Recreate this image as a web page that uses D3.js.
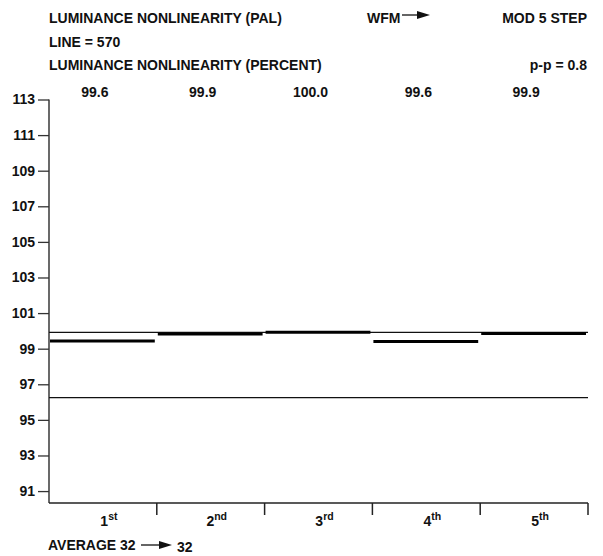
<!DOCTYPE html>
<html>
<head>
<meta charset="utf-8">
<script src="https://cdn.jsdelivr.net/npm/d3@7"></script>
<style>
  body { margin: 0; background: #fff; }
  text { font-family: "Liberation Sans", Arial, sans-serif; font-weight: bold; fill: #111; }
</style>
</head>
<body>
<svg width="603" height="556"></svg>
<script>
// data
const steps = ["1st", "2nd", "3rd", "4th", "5th"];
const stepNums = ["1", "2", "3", "4", "5"];
const stepSups = ["st", "nd", "rd", "th", "th"];
const stepLabels = ["99.6", "99.9", "100.0", "99.6", "99.9"];
const stepLevels = [99.43, 99.83, 99.93, 99.40, 99.86];
const refLevels = [99.92, 96.25];
const yTicks = [113, 111, 109, 107, 105, 103, 101, 99, 97, 95, 93, 91];

const svg = d3.select('svg');

const margin = { top: 99.5, right: 15, bottom: 53, left: 49 };
const width = +svg.attr('width');
const height = +svg.attr('height');

const xScale = d3.scaleBand()
  .domain(steps)
  .range([margin.left, width - margin.right])
  .padding(0);

const yScale = d3.scaleLinear()
  .domain([90.33, 113])
  .range([height - margin.bottom, margin.top]);

// header lines
const header = svg.append('g').attr('font-size', 14);
header.append('text').attr('x', 49).attr('y', 22.7).text('LUMINANCE NONLINEARITY (PAL)');
header.append('text').attr('x', 367).attr('y', 22.7).text('WFM');
header.append('text').attr('x', 587).attr('y', 22.7).attr('text-anchor', 'end').text('MOD 5 STEP');
header.append('text').attr('x', 49).attr('y', 46.5).text('LINE = 570');
header.append('text').attr('x', 49).attr('y', 70).text('LUMINANCE NONLINEARITY (PERCENT)');
header.append('text').attr('x', 587).attr('y', 70).attr('text-anchor', 'end').text('p-p = 0.8');

const arrow = (g, x1, x2, y) => {
  g.append('line')
    .attr('x1', x1).attr('x2', x2 - 10)
    .attr('y1', y).attr('y2', y)
    .attr('stroke', '#111').attr('stroke-width', 1.3);
  g.append('path')
    .attr('d', `M${x2 - 13},${y - 4}L${x2},${y}L${x2 - 13},${y + 4}Z`)
    .attr('fill', '#111');
};
arrow(svg, 402, 430, 15);

// step values above the plot
svg.append('g')
  .selectAll('text')
  .data(stepLabels)
  .join('text')
    .attr('font-size', 14)
    .attr('text-anchor', 'middle')
    .attr('x', (d, i) => xScale(steps[i]) + xScale.bandwidth() / 2 - 8)
    .attr('y', 97)
    .text(d => d);

// y axis
const yAxis = d3.axisLeft(yScale)
  .tickValues(yTicks)
  .tickFormat(d3.format('d'))
  .tickSize(11)
  .tickSizeOuter(0)
  .tickPadding(3);

const yAxisG = svg.append('g')
  .attr('transform', `translate(${margin.left},0)`)
  .call(yAxis);
yAxisG.select('.domain')
  .attr('d', `M0,${yScale(113)}V${yScale.range()[0]}`)
  .attr('stroke', '#444').attr('stroke-width', 1.6);
yAxisG.selectAll('.tick line').attr('stroke', '#333').attr('stroke-width', 1.3);
yAxisG.selectAll('.tick text')
  .attr('font-size', 14)
  .attr('font-family', null)
  .attr('fill', '#111');

// x axis with band boundaries
const xAxisG = svg.append('g')
  .attr('transform', `translate(0,${yScale.range()[0]})`);
xAxisG.append('line')
  .attr('x1', margin.left).attr('x2', width - margin.right)
  .attr('stroke', '#222').attr('stroke-width', 1.6);
xAxisG.selectAll('.bound')
  .data(steps)
  .join('line')
    .attr('class', 'bound')
    .attr('x1', d => xScale(d) + xScale.bandwidth())
    .attr('x2', d => xScale(d) + xScale.bandwidth())
    .attr('y1', 0).attr('y2', 12)
    .attr('stroke', '#222').attr('stroke-width', 1.5);

const stepText = xAxisG.selectAll('.step')
  .data(steps)
  .join('text')
    .attr('class', 'step')
    .attr('font-size', 14)
    .attr('text-anchor', 'middle')
    .attr('x', d => xScale(d) + xScale.bandwidth() / 2 + 6)
    .attr('y', 23);
stepText.append('tspan').text((d, i) => stepNums[i]);
stepText.append('tspan')
  .attr('font-size', 10.5)
  .attr('dy', -6)
  .text((d, i) => stepSups[i]);

// reference lines
svg.append('g')
  .selectAll('line')
  .data(refLevels)
  .join('line')
    .attr('x1', margin.left)
    .attr('x2', width - margin.right)
    .attr('y1', d => yScale(d))
    .attr('y2', d => yScale(d))
    .attr('stroke', '#111')
    .attr('stroke-width', 1.3);

// step levels
svg.append('g')
  .selectAll('line')
  .data(stepLevels)
  .join('line')
    .attr('x1', (d, i) => xScale(steps[i]) + 1)
    .attr('x2', (d, i) => xScale(steps[i]) + xScale.bandwidth() - 2)
    .attr('y1', d => yScale(d))
    .attr('y2', d => yScale(d))
    .attr('stroke', '#000')
    .attr('stroke-width', 3);

// footer
const footer = svg.append('g').attr('font-size', 14);
footer.append('text').attr('x', 48).attr('y', 550).text('AVERAGE 32');
arrow(footer, 141, 172, 545);
footer.append('text').attr('x', 177).attr('y', 551.5).text('32');
</script>
</body>
</html>
